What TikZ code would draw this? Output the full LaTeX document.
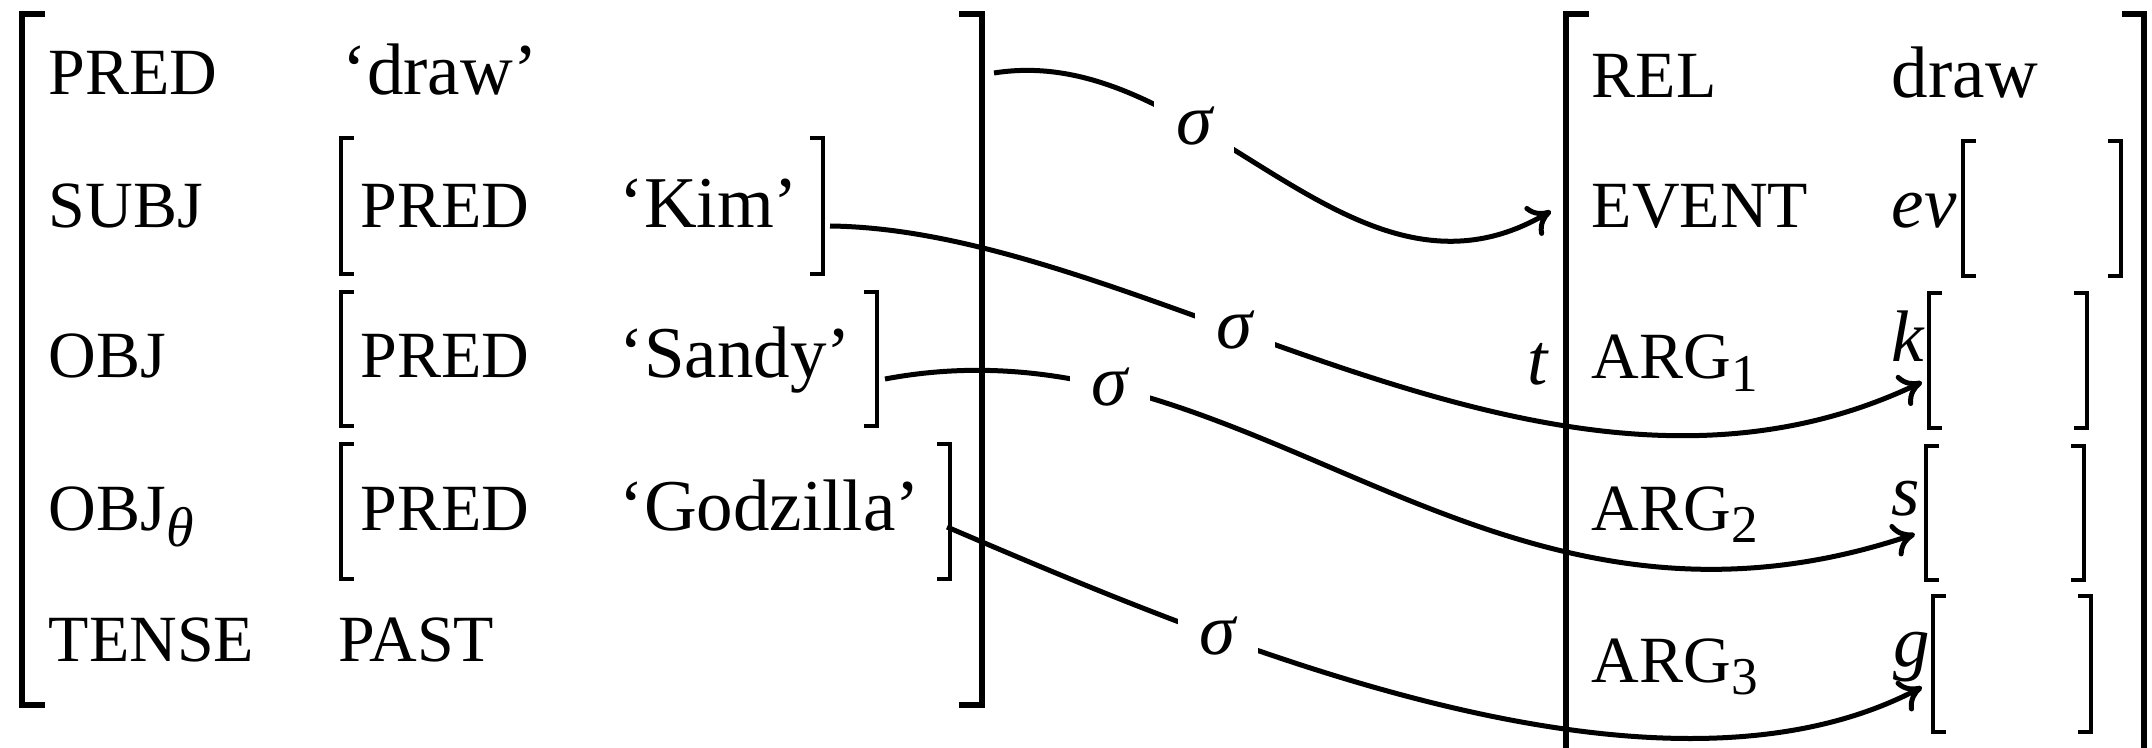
\documentclass[tikz,border=0pt]{standalone}
\usepackage{fontspec}
\setmainfont{Liberation Serif}
\usetikzlibrary{arrows.meta}
\newcommand\subnum[1]{\raisebox{-3pt}{\fontsize{13.3}{14}\selectfont #1}}
\begin{document}
\begin{tikzpicture}[x=0.25pt,y=-0.25pt,
  txt/.style={anchor=base west, inner sep=0pt, font=\fontsize{18.25}{20}\selectfont},
  att/.style={anchor=base west, inner sep=0pt, font=\fontsize{16.5}{18}\selectfont},
  obr/.style={line width=1.3pt},
  ibr/.style={line width=0.8pt},
  conn/.style={line width=1.25pt, -{Computer Modern Rightarrow[length=5.5pt,width=8.5pt]}},
  sig/.style={fill=white, inner sep=5.5pt, font=\fontsize{18.25}{20}\selectfont\itshape}
]
\useasboundingbox (0,0) rectangle (2152,748);

% ---------- left (f-structure) AVM ----------
\draw[obr] (45,14) -- (22,14) -- (22,705) -- (45,705);
\draw[obr] (959,14) -- (982,14) -- (982,705) -- (959,705);

\node[att] (a1) at (48,95) {PRED};
\node[txt] (v1) at (342,95) {‘draw’};

\node[att] (a2) at (48,227) {SUBJ};
\draw[ibr] (354,138) -- (341,138) -- (341,274) -- (354,274);
\draw[ibr] (810,138) -- (823,138) -- (823,274) -- (810,274);
\node[att] (p2) at (360,227) {PRED};
\node[txt] (v2) at (619,227) {‘Kim’};

\node[att] (a3) at (48,377) {OBJ};
\draw[ibr] (354,292) -- (341,292) -- (341,426) -- (354,426);
\draw[ibr] (864,292) -- (877,292) -- (877,426) -- (864,426);
\node[att] (p3) at (360,377) {PRED};
\node[txt] (v3) at (619,377) {‘Sandy’};

\node[att] (a4) at (48,530) {OBJ\raisebox{-4pt}{\fontsize{14}{15}\selectfont\itshape θ}};
\draw[ibr] (354,444) -- (341,444) -- (341,579) -- (354,579);
\draw[ibr] (937,444) -- (950,444) -- (950,579) -- (937,579);
\node[att] (p4) at (360,530) {PRED};
\node[txt] (v4) at (619,530) {‘Godzilla’};

\node[att] (a5) at (48,661) {TENSE};
\node[att] (v5) at (338,661) {PAST};

% ---------- right (s-structure) AVM ----------
\draw[obr] (1589,14) -- (1566,14) -- (1566,760);
\draw[obr] (2122,14) -- (2144,14) -- (2144,760);

\node[txt, anchor=base east] (t) at (1549,384) {\itshape t};

\node[att] (r1) at (1591,98) {REL};
\node[txt] (rv1) at (1891,98) {draw};

\node[att] (r2) at (1591,228) {EVENT};
\node[txt] (rv2) at (1891,228) {\itshape ev};
\draw[ibr] (1976,141) -- (1963,141) -- (1963,276) -- (1976,276);
\draw[ibr] (2108,141) -- (2121,141) -- (2121,276) -- (2108,276);

\node[att] (r3) at (1591,379) {ARG\subnum{1}};
\node[txt] (rv3) at (1891,361) {\itshape k};
\draw[ibr] (1942,293) -- (1929,293) -- (1929,428) -- (1942,428);
\draw[ibr] (2074,293) -- (2087,293) -- (2087,428) -- (2074,428);

\node[att] (r4) at (1591,530) {ARG\subnum{2}};
\node[txt] (rv4) at (1891,515) {\itshape s};
\draw[ibr] (1939,446) -- (1926,446) -- (1926,580) -- (1939,580);
\draw[ibr] (2071,446) -- (2084,446) -- (2084,580) -- (2071,580);

\node[att] (r5) at (1591,682) {ARG\subnum{3}};
\node[txt] (rv5) at (1893,666) {\itshape g};
\draw[ibr] (1946,596) -- (1933,596) -- (1933,732) -- (1946,732);
\draw[ibr] (2078,596) -- (2091,596) -- (2091,732) -- (2078,732);

% ---------- connector ends ----------
\coordinate (c1s) at (994,73);
\coordinate (c1e) at (1551,211);
\coordinate (c2s) at (830,226);
\coordinate (c2e) at (1922,382);
\coordinate (c3s) at (885,379);
\coordinate (c3e) at (1915,534);
\coordinate (c4s) at (947,527);
\coordinate (c4e) at (1922,687);

% ---------- sigma connectors ----------
\draw[conn] (c1s) .. controls (1200,40) and (1350,330) .. (c1e)
  node[sig, pos=0.35] (s1) {σ};
\draw[conn] (c2s) .. controls (1150,230) and (1550,560) .. (c2e)
  node[sig, pos=0.39] (s2) {σ};
\draw[conn] (c3s) .. controls (1250,310) and (1480,680) .. (c3e)
  node[sig, pos=0.22] (s3) {σ};
\draw[conn] (c4s) .. controls (1200,635) and (1650,830) .. (c4e)
  node[sig, pos=0.30] (s4) {σ};
\end{tikzpicture}
\end{document}
